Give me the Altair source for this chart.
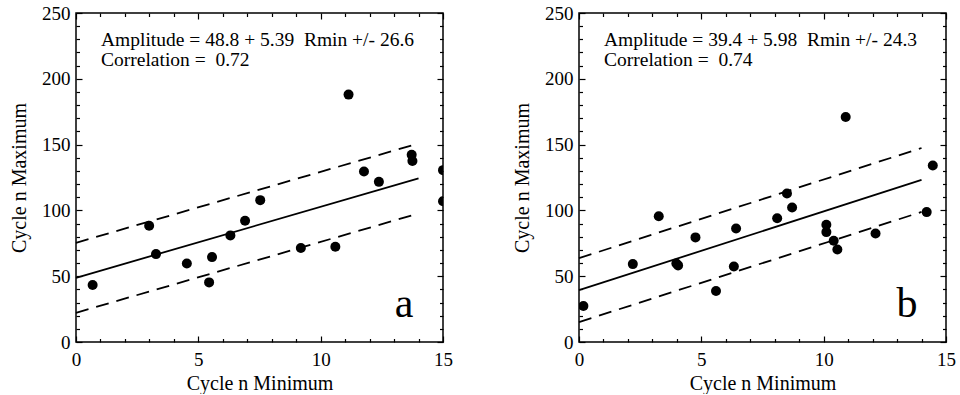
import altair as alt
import pandas as pd

# ---- data ----
a_x = [0.68, 2.99, 3.27, 4.53, 5.44, 5.56, 6.31, 6.91, 7.53, 9.19, 10.6, 11.14,
       11.77, 12.38, 13.72, 13.75, 15.0, 15.0]
a_y = [43.3, 88.3, 66.8, 59.7, 45.3, 64.5, 81.0, 92.1, 107.8, 71.4, 72.4, 188.0,
       129.6, 121.7, 142.2, 137.6, 130.6, 107.0]

b_x = [0.18, 2.2, 3.26, 3.98, 4.05, 4.76, 5.6, 6.33, 6.42, 8.1, 8.5, 8.71,
       10.11, 10.11, 10.41, 10.56, 10.9, 12.12, 14.21, 14.46]
b_y = [27.3, 59.2, 95.6, 59.7, 58.2, 79.5, 38.7, 57.4, 86.3, 94.1, 112.9, 102.2,
       89.1, 83.5, 76.9, 70.3, 171.0, 82.5, 98.7, 134.1]

# fit: intercept, slope, +/- band
a_fit = [48.8, 5.39, 26.6]
b_fit = [39.4, 5.98, 24.3]
fit_x = [0, 14]

a_text = ["Amplitude = 48.8 + 5.39 \u00a0Rmin +/- 26.6", "Correlation = \u00a00.72"]
b_text = ["Amplitude = 39.4 + 5.98 \u00a0Rmin +/- 24.3", "Correlation = \u00a00.74"]

x_major = [0, 5, 10, 15]
x_minor = [1, 2, 3, 4, 6, 7, 8, 9, 11, 12, 13, 14]
y_major = [0, 50, 100, 150, 200, 250]
y_minor = [10, 20, 30, 40, 60, 70, 80, 90, 110, 120, 130, 140, 160, 170, 180,
           190, 210, 220, 230, 240]

W, H = 367, 329
FONT = "Liberation Serif"
MAJ, MIN = 6, 3.5


def xs():
    return alt.Scale(domain=[0, 15], nice=False, zero=False)


def ys():
    return alt.Scale(domain=[0, 250], nice=False, zero=False)


def tick_axis(orient, values, size):
    return alt.Axis(orient=orient, values=values, offset=-size, tickSize=size,
                    labels=False, domain=False, grid=False, ticks=True,
                    tickColor="black", tickWidth=1.2, title=None)


def panel(px, py, fit, lines, letter):
    pts = pd.DataFrame({"x": px, "y": py})
    b0, b1, s = fit
    fl = pd.DataFrame({"x": fit_x})
    fl["y"] = [b0 + b1 * v for v in fit_x]
    fl["hi"] = fl["y"] + s
    fl["lo"] = fl["y"] - s

    base_line = alt.Chart(fl)
    solid = base_line.mark_line(color="black", strokeWidth=1.8).encode(
        x=alt.X("x:Q", scale=xs(), axis=None),
        y=alt.Y("y:Q", scale=ys(), axis=None))
    hi = base_line.mark_line(color="black", strokeWidth=1.8, strokeDash=[13, 8]).encode(
        x=alt.X("x:Q", scale=xs(), axis=None),
        y=alt.Y("hi:Q", scale=ys(), axis=None))
    lo = base_line.mark_line(color="black", strokeWidth=1.8, strokeDash=[13, 8]).encode(
        x=alt.X("x:Q", scale=xs(), axis=None),
        y=alt.Y("lo:Q", scale=ys(), axis=None))

    dots = alt.Chart(pts).mark_circle(size=100, color="black", opacity=1, clip=True).encode(
        x=alt.X("x:Q", scale=xs(), axis=alt.Axis(
            orient="bottom", values=x_major, ticks=False, domain=False, grid=False,
            labelFlush=False, labelPadding=8, format="d", title="Cycle n Minimum",
            titlePadding=4, labelFont=FONT, labelFontSize=19, labelColor="black",
            titleFont=FONT, titleFontSize=20, titleFontWeight="normal",
            titleColor="black")),
        y=alt.Y("y:Q", scale=ys(), axis=alt.Axis(
            orient="left", values=y_major, ticks=False, domain=False, grid=False,
            labelPadding=6, format="d", title="Cycle n Maximum", titlePadding=12,
            labelFont=FONT, labelFontSize=19, labelColor="black",
            titleFont=FONT, titleFontSize=20, titleFontWeight="normal",
            titleColor="black")))

    one = pd.DataFrame({"k": [0]})
    txt = alt.Chart(one).mark_text(
        text=lines, align="left", baseline="alphabetic", font=FONT, fontSize=19.5,
        lineHeight=19.5, color="black").encode(x=alt.value(25), y=alt.value(33))
    let = alt.Chart(one).mark_text(
        text=letter, align="center", baseline="alphabetic", font=FONT, fontSize=42,
        color="black").encode(x=alt.value(328), y=alt.value(304))

    def ticks(xo, yo, xv, yv, size):
        return alt.Chart(pts).mark_point(opacity=0).encode(
            x=alt.X("x:Q", scale=xs(), axis=tick_axis(xo, xv, size)),
            y=alt.Y("y:Q", scale=ys(), axis=tick_axis(yo, yv, size)))

    layers = [solid, hi, lo, dots, txt, let,
              ticks("bottom", "left", x_major, y_major, MAJ),
              ticks("bottom", "left", x_minor, y_minor, MIN),
              ticks("top", "right", x_major, y_major, MAJ),
              ticks("top", "right", x_minor, y_minor, MIN)]
    return alt.layer(*layers).resolve_axis(x="independent", y="independent").properties(
        width=W, height=H)


pa = panel(a_x, a_y, a_fit, a_text, "a")
pb = panel(b_x, b_y, b_fit, b_text, "b")

chart = alt.hconcat(pa, pb, spacing=57).properties(
    padding={"left": 8, "top": 3, "right": 0, "bottom": 0},
    background="white"
).configure_view(stroke="black", strokeWidth=1.5)

chart.save("out.html", embed_options={"renderer": "svg", "actions": False})
